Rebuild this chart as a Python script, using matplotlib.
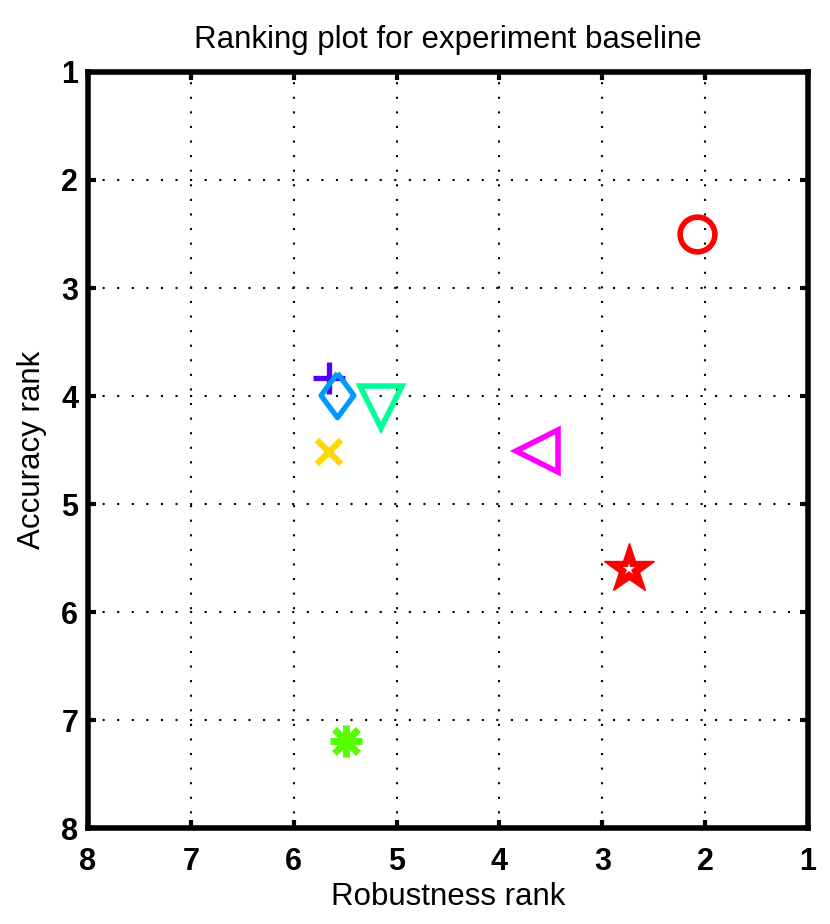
import matplotlib
matplotlib.use("Agg")
import matplotlib.pyplot as plt

plt.rcParams['font.family'] = ['Liberation Sans', 'DejaVu Sans']

robustness = [2.08, 5.66, 5.58, 5.15, 5.66, 3.63, 2.74, 5.49]
accuracy = [2.50, 3.83, 3.99, 4.10, 4.52, 4.51, 5.60, 7.19]
markers = ['o', '+', 'D', 'v', 'x', '<', '*', 'asterisk']
colors = ['#FF0000', '#5500FF', '#0099FF', '#00FF99', '#FFD700', '#FF00FF', '#FF0000', '#55FF00']
ticks = [1, 2, 3, 4, 5, 6, 7, 8]

diamond = [(0, 1), (0.74, 0), (0, -1), (-0.74, 0), (0, 1)]

fig = plt.figure(figsize=(8.3, 9.24), dpi=100)
ax = fig.add_axes([88/830, 1-828/924, 720/830, 756/924])

for xv, yv, m, c in zip(robustness, accuracy, markers, colors):
    if m == 'o':
        ax.plot(xv, yv, marker='o', ms=25, mfc='none', mec=c, mew=4, ls='none', zorder=3)
    elif m == '+':
        ax.plot(xv, yv, marker='+', ms=23, mec=c, mew=3.8, ls='none', zorder=3)
    elif m == 'D':
        ax.plot(xv, yv, marker=diamond, ms=32, mfc='none', mec=c, mew=3.8, ls='none', zorder=3)
    elif m == 'v':
        ax.plot(xv, yv, marker='v', ms=30, mfc='none', mec=c, mew=4, ls='none', zorder=3)
    elif m == 'x':
        ax.plot(xv, yv, marker='x', ms=17, mec=c, mew=4.5, ls='none', zorder=3)
    elif m == '<':
        ax.plot(xv, yv, marker='<', ms=30, mfc='none', mec=c, mew=4, ls='none', zorder=3)
    elif m == '*':
        ax.plot(xv, yv, marker='*', ms=38, mfc=c, mec=c, mew=1, ls='none', zorder=3)
        ax.plot(xv, yv, marker='*', ms=9, mfc='white', mec='white', mew=0, ls='none', zorder=4)
    else:
        ax.plot(xv, yv, marker='+', ms=23, mec=c, mew=5, ls='none', zorder=3)
        ax.plot(xv, yv, marker='x', ms=17, mec=c, mew=5, ls='none', zorder=3)

ax.set_xlim(8, 1)
ax.set_ylim(8, 1)
ax.set_xticks(ticks)
ax.set_yticks(ticks)
ax.set_xticklabels([str(t) for t in ticks], fontweight='bold', fontsize=22)
ax.set_yticklabels([str(t) for t in ticks], fontweight='bold', fontsize=22)
ax.tick_params(direction='in', length=6, width=3, top=True, right=True)
ax.tick_params(axis='x', pad=14)
ax.tick_params(axis='y', pad=7)
ax.grid(True, color='black', linestyle=(0, (1, 6)), linewidth=1.5)
for s in ax.spines.values():
    s.set_linewidth(4)
ax.set_title('Ranking plot for experiment baseline', fontsize=22.5, pad=17)
ax.set_xlabel('Robustness rank', fontsize=22.5, labelpad=3)
ax.set_ylabel('Accuracy rank', fontsize=22.5, labelpad=10)

fig.savefig('out.png', dpi=100)
